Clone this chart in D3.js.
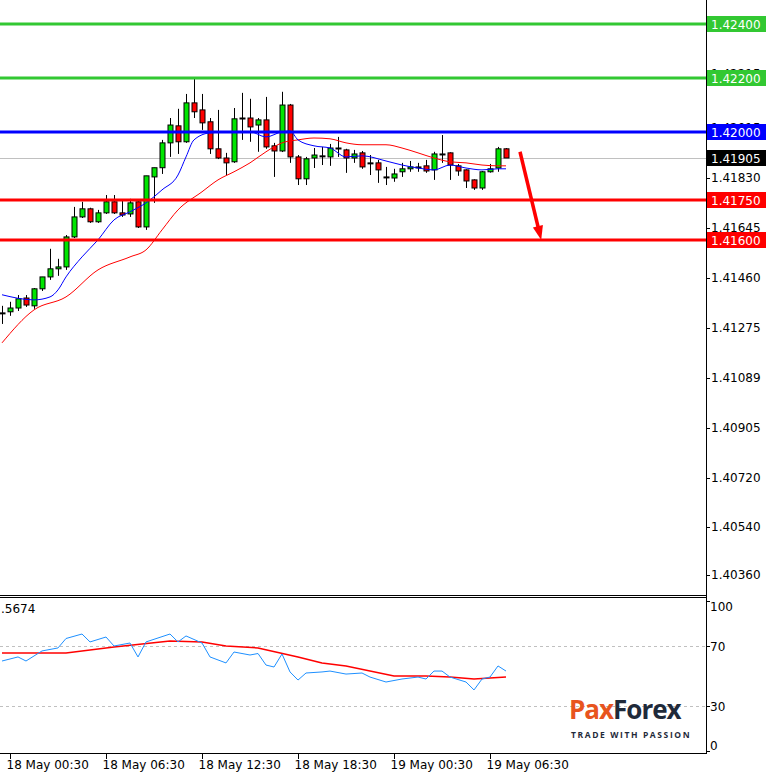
<!DOCTYPE html>
<html><head><meta charset="utf-8">
<script src="https://cdn.jsdelivr.net/npm/d3@7"></script>
<style>body{margin:0;background:#fff}svg{display:block;font-family:Tahoma,"DejaVu Sans",sans-serif}</style>
</head><body><svg id="c" width="771" height="773"></svg>
<script>
// OHLC, M30 candles, 18 May 00:00 .. 19 May 07:30
const opens=[1.41331,1.41335,1.41349,1.41386,1.41357,1.41420,1.41464,1.41494,1.41501,1.41612,1.41686,1.41716,1.41668,1.41701,1.41742,1.41701,1.41697,1.41742,1.41649,1.41834,1.41868,1.41960,1.42023,1.41964,1.42108,1.42082,1.42038,1.41938,1.41904,1.41890,1.42049,1.42052,1.42026,1.42045,1.41949,1.41930,1.42100,1.41908,1.41827,1.41904,1.41912,1.41908,1.41941,1.41934,1.41904,1.41923,1.41886,1.41886,1.41834,1.41830,1.41853,1.41864,1.41871,1.41875,1.41860,1.41919,1.41923,1.41875,1.41860,1.41823,1.41793,1.41853,1.41867,1.41938];
const highs=[1.41357,1.41372,1.41397,1.41397,1.41423,1.41464,1.41568,1.41531,1.41619,1.41723,1.41742,1.41720,1.41712,1.41767,1.41767,1.41749,1.41753,1.41749,1.41838,1.41868,1.41971,1.42052,1.42086,1.42141,1.42197,1.42141,1.42052,1.42082,1.41923,1.42089,1.42145,1.42123,1.42052,1.42130,1.41960,1.42149,1.42104,1.41915,1.41908,1.41941,1.41945,1.41956,1.41982,1.41938,1.41934,1.41930,1.41915,1.41897,1.41871,1.41864,1.41886,1.41893,1.41886,1.41897,1.41927,1.41989,1.41925,1.41882,1.41862,1.41825,1.41856,1.41882,1.41945,1.41941];
const lows=[1.41290,1.41320,1.41338,1.41353,1.41346,1.41412,1.41453,1.41468,1.41490,1.41608,1.41682,1.41664,1.41664,1.41697,1.41697,1.41686,1.41686,1.41645,1.41638,1.41738,1.41845,1.41908,1.41919,1.41960,1.42052,1.42008,1.41919,1.41900,1.41841,1.41886,1.41971,1.41964,1.41927,1.41938,1.41834,1.41926,1.41886,1.41804,1.41804,1.41867,1.41878,1.41875,1.41908,1.41849,1.41886,1.41864,1.41841,1.41812,1.41804,1.41816,1.41834,1.41853,1.41853,1.41849,1.41823,1.41886,1.41823,1.41838,1.41793,1.41786,1.41786,1.41850,1.41853,1.41904];
const closes=[1.41331,1.41349,1.41383,1.41360,1.41420,1.41464,1.41494,1.41501,1.41612,1.41686,1.41716,1.41668,1.41701,1.41742,1.41701,1.41693,1.41738,1.41649,1.41838,1.41868,1.41960,1.42026,1.41964,1.42108,1.42075,1.42034,1.41938,1.41904,1.41886,1.42049,1.42052,1.42019,1.42045,1.41945,1.41930,1.42100,1.41908,1.41827,1.41901,1.41915,1.41910,1.41941,1.41938,1.41904,1.41919,1.41871,1.41884,1.41860,1.41832,1.41845,1.41864,1.41871,1.41869,1.41856,1.41919,1.41917,1.41878,1.41856,1.41819,1.41793,1.41853,1.41864,1.41938,1.41904];
// moving averages [candle index, price]
const maFast=[[0,1.41398],[4,1.41379],[6,1.41390],[7,1.41416],[8,1.41464],[10,1.41538],[12,1.41601],[14,1.41675],[16,1.41705],[18,1.41738],[20,1.41786],[22,1.41841],[23,1.41908],[24,1.41971],[26,1.41997],[29,1.42001],[31,1.42001],[33,1.41982],[35,1.42001],[36,1.42004],[37,1.41971],[39,1.41949],[41,1.41941],[43,1.41908],[45,1.41912],[48,1.41893],[50,1.41878],[52,1.41867],[54,1.41860],[56,1.41878],[58,1.41867],[60,1.41860],[62,1.41864],[63,1.41864]];
const maSlow=[[0,1.41220],[4,1.41342],[8,1.41390],[12,1.41490],[16,1.41538],[18,1.41564],[20,1.41638],[22,1.41712],[25,1.41779],[27,1.41823],[29,1.41853],[31,1.41886],[33,1.41927],[35,1.41960],[37,1.41971],[39,1.41978],[41,1.41975],[43,1.41960],[45,1.41953],[48,1.41953],[50,1.41941],[52,1.41923],[54,1.41904],[56,1.41890],[58,1.41886],[60,1.41878],[62,1.41875],[63,1.41875]];
// RSI and its average [candle index, value]
const rsi=[[0,60],[2,62.7],[3,60],[5,66.7],[7,68.7],[8,75],[10,78],[11,72.7],[13,76],[14,70],[16,72],[17,62.7],[18,72.7],[21,78],[22,72.7],[23,76.7],[25,72],[26,62.7],[28,58.7],[29,66],[31,64],[32,65],[33,57.3],[34,56],[35,64.7],[36,52.7],[37,47.3],[38,52],[40,52.7],[41,53.3],[43,51.3],[45,52],[46,49.3],[48,46],[50,48],[52,49.3],[53,48],[54,53.3],[55,53.3],[56,49.3],[58,46],[59,40.7],[60,48],[61,49.3],[62,56.7],[63,53.3]];
const rsiMa=[[0,65.3],[8,65.3],[14,69.3],[21,73.3],[25,72.7],[28,70],[32,68.7],[37,62.7],[40,58.7],[43,56.7],[49,50],[53,50],[56,49.3],[59,48],[63,49.3]];
const priceTicks=[1.42400,1.42215,1.42015,1.41830,1.41645,1.41460,1.41275,1.41089,1.40905,1.40720,1.40540,1.40360];
const rsiTicks=[100,70,30,0];
const timeTickIdx=[1,13,25,37,49,61];
const timeLabels=["18 May 00:30","18 May 06:30","18 May 12:30","18 May 18:30","19 May 00:30","19 May 06:30"];
const levels=[{p:1.42400,c:"#32c832",lab:"1.42400"},{p:1.42200,c:"#32c832",lab:"1.42200"},{p:1.42000,c:"#0000ff",lab:"1.42000"},{p:1.41750,c:"#ff0000",lab:"1.41750"},{p:1.41600,c:"#ff0000",lab:"1.41600"}];
const lastPrice=1.41905;
const arrow=[[64.75,1.41927],[67.4,1.41601]];
const rsiName=".5674";

const svg=d3.select("#c");
const W=706;
const x=d3.scaleLinear().domain([0,1]).range([2,10]);
const y=d3.scaleLinear().domain([1.4183,1.42015]).range([178,128]);
const yr=d3.scaleLinear().domain([0,100]).range([751,601]);

svg.append("line").attr("x1",0).attr("x2",W).attr("y1",595.5).attr("y2",595.5).attr("stroke","#000");
svg.append("line").attr("x1",0).attr("x2",W).attr("y1",597.5).attr("y2",597.5).attr("stroke","#000");
svg.append("line").attr("x1",0).attr("x2",W).attr("y1",753.5).attr("y2",753.5).attr("stroke","#000");
svg.append("line").attr("x1",W+.5).attr("x2",W+.5).attr("y1",0).attr("y2",754).attr("stroke","#000");

const gp=svg.append("g");
priceTicks.forEach(t=>{
  gp.append("line").attr("x1",W).attr("x2",W+4).attr("y1",Math.round(y(t))+.5).attr("y2",Math.round(y(t))+.5).attr("stroke","#000");
  gp.append("text").attr("x",711).attr("y",y(t)+4).attr("font-size",12).text(t.toFixed(5));
});
gp.append("line").attr("x1",0).attr("x2",W).attr("y1",Math.round(y(lastPrice))+.5).attr("y2",Math.round(y(lastPrice))+.5).attr("stroke","#c0c0c0");

const idx=d3.range(opens.length);
const gc=svg.append("g");
idx.forEach(i=>{
  const cx=Math.round(x(i))+.5;
  gc.append("line").attr("x1",cx).attr("x2",cx).attr("y1",y(highs[i])).attr("y2",y(lows[i])).attr("stroke","#000");
});
idx.forEach(i=>{
  const cx=Math.round(x(i));
  const top=y(Math.max(opens[i],closes[i])),bot=y(Math.min(opens[i],closes[i]));
  if(bot-top<1.5){
    gc.append("rect").attr("x",cx-2.5).attr("y",top-.5).attr("width",6).attr("height",Math.max(2,bot-top+1)).attr("fill","#000");
  } else {
    gc.append("rect").attr("x",cx-2).attr("y",top).attr("width",5).attr("height",bot-top)
      .attr("fill",closes[i]>=opens[i]?"#00e600":"#ff0000").attr("stroke","#000").attr("stroke-width",1);
  }
});
const line=d3.line().x(d=>x(d[0])).y(d=>y(d[1])).curve(d3.curveMonotoneX);
svg.append("path").attr("d",line(maSlow)).attr("fill","none").attr("stroke","#ff0000").attr("stroke-width",1);
svg.append("path").attr("d",line(maFast)).attr("fill","none").attr("stroke","#0000ff").attr("stroke-width",1);

levels.forEach(l=>{
  const yy=Math.round(y(l.p));
  svg.append("line").attr("x1",0).attr("x2",W).attr("y1",yy).attr("y2",yy).attr("stroke",l.c).attr("stroke-width",3);
  svg.append("rect").attr("x",707).attr("y",yy-8).attr("width",59).attr("height",16).attr("fill",l.c);
  svg.append("text").attr("x",711).attr("y",yy+5).attr("font-size",12).attr("fill","#fff").text(l.lab);
});
{
  const yy=Math.round(y(lastPrice));
  svg.append("rect").attr("x",707).attr("y",yy-8).attr("width",59).attr("height",16).attr("fill","#000");
  svg.append("text").attr("x",711).attr("y",yy+5).attr("font-size",12).attr("fill","#fff").text(lastPrice.toFixed(5));
}
{
  const [a,b]=arrow.map(d=>[x(d[0]),y(d[1])]);
  const ang=Math.atan2(b[1]-a[1],b[0]-a[0]);
  const back=[b[0]-12*Math.cos(ang),b[1]-12*Math.sin(ang)];
  svg.append("line").attr("x1",a[0]).attr("y1",a[1]).attr("x2",back[0]).attr("y2",back[1]).attr("stroke","#ff0000").attr("stroke-width",3.5);
  const p=(r,o)=>[b[0]-r*Math.cos(ang+o),b[1]-r*Math.sin(ang+o)];
  svg.append("path").attr("d","M"+[b,p(15,0.35),p(15,-0.35)].map(q=>q.join(",")).join("L")+"Z").attr("fill","#ff0000");
}

[70,30].forEach(v=>svg.append("line").attr("x1",0).attr("x2",W).attr("y1",Math.round(yr(v))+.5).attr("y2",Math.round(yr(v))+.5)
  .attr("stroke","#c0c0c0").attr("stroke-dasharray","3,3"));
rsiTicks.forEach(v=>{
  svg.append("line").attr("x1",W).attr("x2",W+4).attr("y1",Math.round(yr(v))+.5).attr("y2",Math.round(yr(v))+.5).attr("stroke","#000");
  svg.append("text").attr("x",710).attr("y",yr(v)+(v==100?10:v==0?-1:5)).attr("font-size",12).text(v);
});
svg.append("text").attr("x",1).attr("y",613).attr("font-size",12).text(rsiName);
const rl=d3.line().x(d=>x(d[0])).y(d=>yr(d[1]));
svg.append("path").attr("d",rl(rsiMa)).attr("fill","none").attr("stroke","#ff0000").attr("stroke-width",1.5);
svg.append("path").attr("d",rl(rsi)).attr("fill","none").attr("stroke","#1e90ff").attr("stroke-width",1);

timeTickIdx.forEach((t,k)=>{
  const tx=Math.round(x(t))+.5;
  svg.append("line").attr("x1",tx).attr("x2",tx).attr("y1",754).attr("y2",759).attr("stroke","#000");
  svg.append("text").attr("x",tx-4).attr("y",769).attr("font-size",12).text(timeLabels[k]);
});

const lg=svg.append("g").attr("font-family","'Open Sans','DejaVu Sans',sans-serif").attr("font-weight","bold");
const t1=lg.append("text").attr("x",569).attr("y",719).attr("font-size",26).attr("letter-spacing","-1");
t1.append("tspan").attr("fill","#e8541e").text("Pa");
t1.append("tspan").attr("fill","#e8541e").text("x");
t1.append("tspan").attr("fill","#1f2a3a").text("Forex");
lg.append("text").attr("x",571).attr("y",738).attr("font-size",8.5).attr("letter-spacing","1.6").attr("fill","#1f2a3a").text("TRADE WITH PASSION");
</script></body></html>
